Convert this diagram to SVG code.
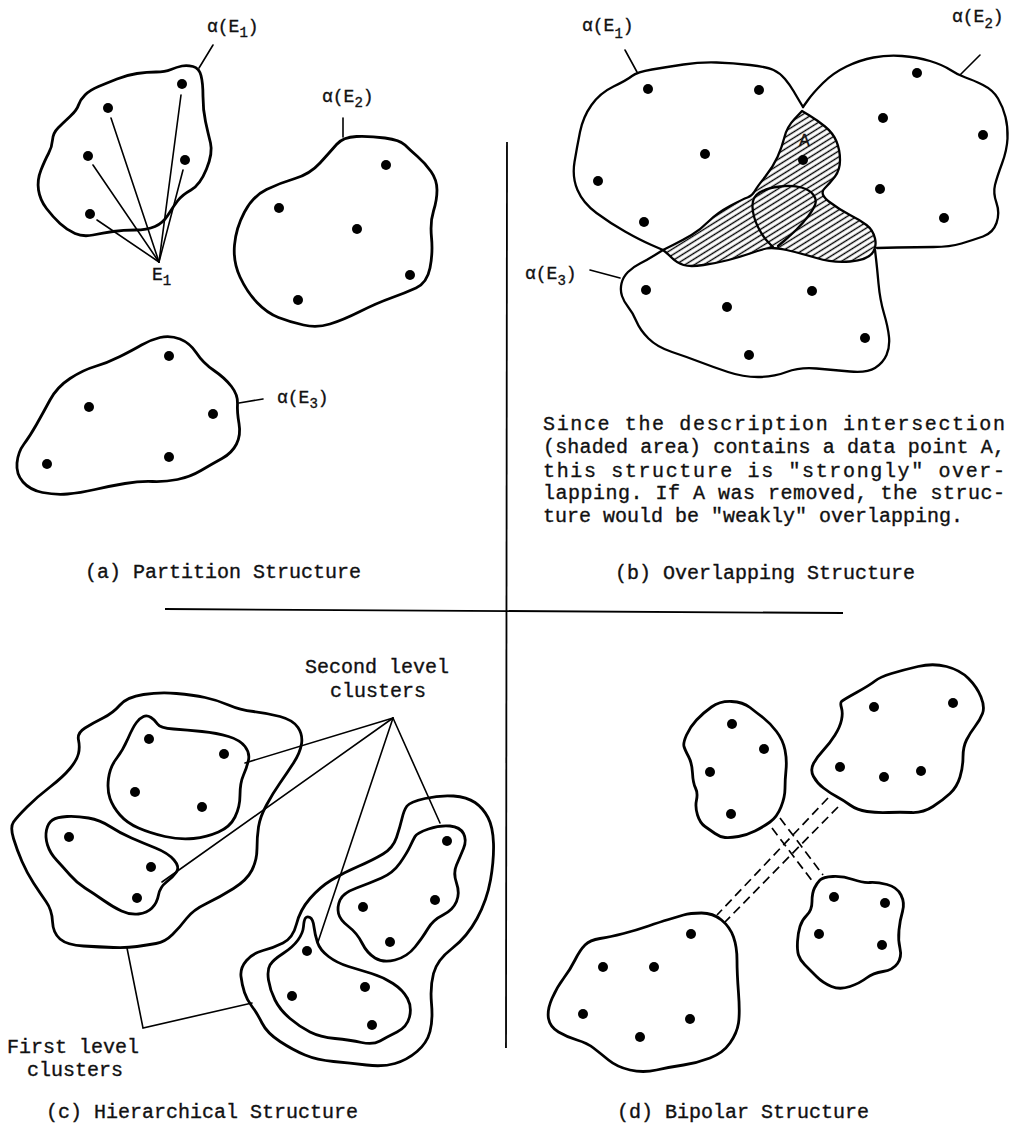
<svg xmlns="http://www.w3.org/2000/svg" width="1020" height="1126" viewBox="0 0 1020 1126">
<style>
.blob{fill:none;stroke:#000;stroke-width:2.8;stroke-linejoin:round;stroke-linecap:round}
.blobb{fill:none;stroke:#000;stroke-width:2.3;stroke-linejoin:round;stroke-linecap:round}
.ln{fill:none;stroke:#000;stroke-width:1.6;stroke-linecap:round}
.div{fill:none;stroke:#000;stroke-width:1.8}
.dash{fill:none;stroke:#000;stroke-width:1.7;stroke-dasharray:9 5}
.dot{fill:#000}
text{font-family:"Liberation Mono","DejaVu Sans Mono",monospace;fill:#111;stroke:#111;stroke-width:0.35}
.cap{font-size:20px}
.lab{font-size:18px}
.sub{font-size:14px}
</style>
<defs>
<pattern id="hatch" width="6" height="5" patternUnits="userSpaceOnUse" patternTransform="rotate(-32)">
<line x1="0" y1="2.5" x2="6" y2="2.5" stroke="#000" stroke-width="1.4"/>
</pattern>
</defs>
<rect width="1020" height="1126" fill="#fff"/>

<g id="dividers">
<line class="div" x1="507" y1="142" x2="506" y2="1048"/>
<line class="div" x1="165" y1="609" x2="843" y2="613"/>
</g>

<!-- (a) Partition structure -->
<g id="panel-a">
<g id="a-E1">
<path class="blob" d="M201,75.5 Q199,68 193,66.5 Q187,65 182,66 Q177,67 171,69.5 Q165,72 156,72 Q147,72 137,73.5 Q127,75 117,79 Q107,83 98.5,86.5 Q90,90 85,95 Q80,100 78.5,105 Q77,110 70,116.5 Q63,123 58,128 Q53,133 52.5,140 Q52,147 48.5,153.5 Q45,160 41,170 Q37,180 38.5,190 Q40,200 46.5,208.5 Q53,217 60,223.5 Q67,230 75,233.5 Q83,237 93,235 Q103,233 113,231.5 Q123,230 135,230 Q147,230 155,226.5 Q163,223 168,215 Q173,207 177.5,201 Q182,195 191,190 Q200,185 206.5,169 Q213,153 210.5,143 Q208,133 205.5,121.5 Q203,110 203,96.5 Q203,83 201,75.5 Z"/>
<circle class="dot" cx="182" cy="84" r="5"/>
<circle class="dot" cx="108" cy="108" r="5"/>
<circle class="dot" cx="88" cy="156" r="5"/>
<circle class="dot" cx="185" cy="160" r="5"/>
<circle class="dot" cx="90" cy="214" r="5"/>
<text class="lab" x="207" y="32">α(E<tspan class="sub" dy="5">1</tspan><tspan dy="-5">)</tspan></text>
<text class="lab" x="152" y="280">E<tspan class="sub" dy="5">1</tspan></text>
</g>
<g id="a-E2">
<path class="blob" d="M336.5,144.5 Q343,137 356.5,136.5 Q370,136 385,138 Q400,140 405,145 Q410,150 417.5,156.5 Q425,163 431,171.5 Q437,180 437,190 Q437,200 433.5,211 Q430,222 431.5,237.5 Q433,253 430,268 Q427,283 416,288 Q405,293 391,298 Q377,303 360,311.5 Q343,320 330,324 Q317,328 303.5,325 Q290,322 278.5,317.5 Q267,313 257,302.5 Q247,292 240,277 Q233,262 234.5,245 Q236,228 244.5,212 Q253,196 266.5,189.5 Q280,183 295,178.5 Q310,174 320,163 Q330,152 336.5,144.5 Z"/>
<circle class="dot" cx="386" cy="165" r="5"/>
<circle class="dot" cx="279" cy="208" r="5"/>
<circle class="dot" cx="357" cy="229" r="5"/>
<circle class="dot" cx="410" cy="275" r="5"/>
<circle class="dot" cx="298" cy="300" r="5"/>
<text class="lab" x="322" y="102">α(E<tspan class="sub" dy="5">2</tspan><tspan dy="-5">)</tspan></text>
</g>
<g id="a-E3">
<path class="blob" d="M160,337.5 Q170,335 180,339 Q190,343 196.5,353 Q203,363 214,370.5 Q225,378 231.5,386.5 Q238,395 237.5,403.5 Q237,412 239,423.5 Q241,435 236.5,444 Q232,453 222,458.5 Q212,464 201,470.5 Q190,477 177.5,479.5 Q165,482 152.5,481.5 Q140,481 125,483.5 Q110,486 95,489.5 Q80,493 67.5,494 Q55,495 42.5,492.5 Q30,490 23,482 Q16,474 17,463 Q18,452 24,444 Q30,436 36.5,424.5 Q43,413 50,400 Q57,387 70,378.5 Q83,370 95,366.5 Q107,363 120,356.5 Q133,350 141.5,345 Q150,340 160,337.5 Z"/>
<circle class="dot" cx="169" cy="356" r="5"/>
<circle class="dot" cx="89" cy="407" r="5"/>
<circle class="dot" cx="213" cy="414" r="5"/>
<circle class="dot" cx="169" cy="457" r="5"/>
<circle class="dot" cx="47" cy="464" r="5"/>
<text class="lab" x="277" y="403">α(E<tspan class="sub" dy="5">3</tspan><tspan dy="-5">)</tspan></text>
</g>
<text class="cap" x="85" y="578">(a) Partition Structure</text>
</g>

<!-- (b) Overlapping structure -->
<g id="panel-b">
<g id="b-shaded">
<path d="M802,111 L809.5,115.5 Q817,120 825,126.5 Q833,133 836.5,141.5 Q840,150 840,160 Q840,170 835,176.5 Q830,183 824.5,188.5 Q819,194 829.5,202 Q840,210 850,215 Q860,220 866.5,225 Q873,230 875,238.5 Q877,247 872,253.5 Q867,260 850,261.5 Q833,263 816.5,258 Q800,253 786.5,250 Q773,247 766.5,248.5 Q760,250 750,253.5 Q740,257 728.5,260 Q717,263 703.5,265 Q690,267 683.5,265 Q677,263 672,258 Q667,253 663,250 L673,245 Q683,240 691.5,235 Q700,230 708.5,221.5 Q717,213 730,206 Q743,199 747.5,197.5 Q752,196 754.5,191.5 Q757,187 765,177 Q773,167 777.5,157 Q782,147 784.5,137 Q787,127 794.5,119 L802,111 Z" fill="url(#hatch)" stroke="#000" stroke-width="2.3" stroke-linejoin="round"/>
<path class="blobb" d="M773,247 L768,242 Q763,237 758,227 Q753,217 752.5,207 Q752,197 759.5,192.5 Q767,188 780,186.5 Q793,185 801.5,187.5 Q810,190 813.5,195 Q817,200 815,205 Q813,210 808,216.5 Q803,223 796.5,229.5 Q790,236 784,241 L778,246"/>
</g>
<g id="b-E1">
<path class="blobb" d="M803,107 L800,102 Q797,97 793.5,91 Q790,85 785,79 Q780,73 773.5,70 Q767,67 750,65 Q733,63 716.5,62.5 Q700,62 683.5,64.5 Q667,67 652,69.5 Q637,72 632,76 Q627,80 613.5,86.5 Q600,93 591.5,105 Q583,117 580,132 Q577,147 574.5,162 Q572,177 577.5,190 Q583,203 596.5,213 Q610,223 625,231.5 Q640,240 651.5,245 L663,250"/>
<circle class="dot" cx="648" cy="89" r="5"/>
<circle class="dot" cx="759" cy="90" r="5"/>
<circle class="dot" cx="705" cy="154" r="5"/>
<circle class="dot" cx="598" cy="181" r="5"/>
<circle class="dot" cx="644" cy="222" r="5"/>
<text class="lab" x="582" y="31">α(E<tspan class="sub" dy="7">1</tspan><tspan dy="-7">)</tspan></text>
</g>
<g id="b-E2">
<path class="blobb" d="M803,107 L808,100 Q813,93 823,83 Q833,73 846.5,66.5 Q860,60 873.5,57.5 Q887,55 902,56 Q917,57 930,61 Q943,65 950.5,70 Q958,75 965.5,77.5 Q973,80 983,85 Q993,90 998,98.5 Q1003,107 1005.5,117 Q1008,127 1007.5,138.5 Q1007,150 1002,163.5 Q997,177 995,185 Q993,193 996.5,203 Q1000,213 996.5,223 Q993,233 983,236.5 Q973,240 961.5,243.5 Q950,247 933.5,247 Q917,247 897,247.5 L877,248"/>
<circle class="dot" cx="917" cy="73" r="5"/>
<circle class="dot" cx="883" cy="118" r="5"/>
<circle class="dot" cx="983" cy="135" r="5"/>
<circle class="dot" cx="880" cy="189" r="5"/>
<circle class="dot" cx="944" cy="218" r="5"/>
<text class="lab" x="952" y="22">α(E<tspan class="sub" dy="6">2</tspan><tspan dy="-6">)</tspan></text>
</g>
<g id="b-E3">
<path class="blobb" d="M663,250 L655,255 Q647,260 640,263.5 Q633,267 628,272 Q623,277 621.5,283.5 Q620,290 622,296 Q624,302 628.5,307.5 Q633,313 636.5,321.5 Q640,330 648.5,338.5 Q657,347 672,352 Q687,357 700,362 Q713,367 728,372 Q743,377 758,377 Q773,377 786.5,372 Q800,367 816.5,368.5 Q833,370 850,371.5 Q867,373 875,368 Q883,363 886.5,355 Q890,347 889,337 Q888,327 884,313.5 Q880,300 878.5,283.5 Q877,267 876,258.5 L875,250"/>
<circle class="dot" cx="646" cy="290" r="5"/>
<circle class="dot" cx="727" cy="307" r="5"/>
<circle class="dot" cx="812" cy="291" r="5"/>
<circle class="dot" cx="865" cy="338" r="5"/>
<circle class="dot" cx="749" cy="355" r="5"/>
<text class="lab" x="525" y="279">α(E<tspan class="sub" dy="6">3</tspan><tspan dy="-6">)</tspan></text>
</g>
<g id="b-pointA">
<circle class="dot" cx="803" cy="160" r="5"/>
<text class="lab" x="799" y="146">A</text>
</g>
<g id="b-text" class="cap">
<text x="543" y="430" textLength="462" lengthAdjust="spacing">Since the description intersection</text>
<text x="543" y="453" textLength="462" lengthAdjust="spacing">(shaded area) contains a data point A,</text>
<text x="543" y="477" textLength="462" lengthAdjust="spacing">this structure is "strongly" over-</text>
<text x="543" y="499" textLength="462" lengthAdjust="spacing">lapping.  If A was removed, the struc-</text>
<text x="543" y="522">ture would be "weakly" overlapping.</text>
</g>
<text class="cap" x="615" y="579">(b) Overlapping Structure</text>
</g>

<!-- (c) Hierarchical structure -->
<g id="panel-c">
<g id="c-outer1">
<path class="blob" d="M120,705 Q127,697 143.5,694.5 Q160,692 176.5,693.5 Q193,695 205,697.5 Q217,700 228.5,705 Q240,710 253.5,711.5 Q267,713 280,716.5 Q293,720 298,727.5 Q303,735 301.5,744 Q300,753 293.5,763 Q287,773 280,783 Q273,793 266.5,805 Q260,817 258.5,827 Q257,837 257,848.5 Q257,860 252,870 Q247,880 233.5,888.5 Q220,897 206.5,903.5 Q193,910 186.5,918.5 Q180,927 172.5,934.5 Q165,942 156,943.5 Q147,945 137,946.5 Q127,948 113.5,947.5 Q100,947 83.5,946 Q67,945 60,939 Q53,933 52.5,921.5 Q52,910 46,901.5 Q40,893 33.5,883 Q27,873 22,861.5 Q17,850 13.5,838.5 Q10,827 13.5,822 Q17,817 27,807 Q37,797 50,787 Q63,777 70,768.5 Q77,760 78.5,753.5 Q80,747 78.5,740 Q77,733 85,728 Q93,723 103,718 Q113,713 120,705 Z"/>
</g>
<g id="c-c1">
<path class="blob" d="M143.5,716.5 Q147,715 151,717.5 Q155,720 157.5,724 Q160,728 173.5,729 Q187,730 202,731.5 Q217,733 228.5,736.5 Q240,740 245,746.5 Q250,753 248.5,760 Q247,767 243.5,775 Q240,783 240,795 Q240,807 235,817 Q230,827 218.5,832 Q207,837 193.5,838.5 Q180,840 165,836.5 Q150,833 138.5,828 Q127,823 120,815 Q113,807 110,798.5 Q107,790 108.5,778.5 Q110,767 116.5,758.5 Q123,750 128,738.5 Q133,727 136.5,722.5 Q140,718 143.5,716.5 Z"/>
<circle class="dot" cx="149" cy="739" r="5"/>
<circle class="dot" cx="224" cy="754" r="5"/>
<circle class="dot" cx="135" cy="792" r="5"/>
<circle class="dot" cx="202" cy="807" r="5"/>
</g>
<g id="c-c2">
<path class="blob" d="M52.5,820 Q57,817 67,816.5 Q77,816 88.5,818 Q100,820 110,826.5 Q120,833 131.5,838 Q143,843 155.5,848 Q168,853 174,860 Q180,867 176.5,872 Q173,877 166.5,882 Q160,887 158.5,895 Q157,903 152,908 Q147,913 138.5,914 Q130,915 121.5,911 Q113,907 103,900 Q93,893 85,888 Q77,883 70,875 Q63,867 56.5,860 Q50,853 47.5,845 Q45,837 46.5,830 Q48,823 52.5,820 Z"/>
<circle class="dot" cx="69" cy="837" r="5"/>
<circle class="dot" cx="151" cy="867" r="5"/>
<circle class="dot" cx="137" cy="898" r="5"/>
</g>
<g id="c-outer2">
<path class="blob" d="M407,806 Q410,802 425,798.5 Q440,795 453.5,796 Q467,797 475,802.5 Q483,808 488,817.5 Q493,827 493.5,843.5 Q494,860 490.5,880 Q487,900 477,918.5 Q467,937 452,948.5 Q437,960 433.5,973.5 Q430,987 431.5,1003.5 Q433,1020 430,1031.5 Q427,1043 417,1051.5 Q407,1060 395,1063.5 Q383,1067 366.5,1065 Q350,1063 333.5,1061.5 Q317,1060 305,1055 Q293,1050 280,1041.5 Q267,1033 262,1023 Q257,1013 252,1006.5 Q247,1000 244.5,992.5 Q242,985 241,976.5 Q240,968 246.5,960.5 Q253,953 263,950.5 Q273,948 283,943 Q293,938 296.5,924 Q300,910 310,898.5 Q320,887 331.5,880 Q343,873 358,866.5 Q373,860 383,854 Q393,848 396.5,837.5 Q400,827 402,818.5 Q404,810 407,806 Z"/>
</g>
<g id="c-c3">
<path class="blob" d="M415,836.5 Q417,833 428.5,829 Q440,825 450,826 Q460,827 463.5,833.5 Q467,840 463.5,848.5 Q460,857 456.5,865 Q453,873 456.5,883 Q460,893 456.5,901.5 Q453,910 443,915 Q433,920 428,928.5 Q423,937 415,947 Q407,957 395,960 Q383,963 375,958 Q367,953 362,943 Q357,933 348.5,926.5 Q340,920 338.5,913.5 Q337,907 340,900 Q343,893 356.5,888 Q370,883 381.5,878 Q393,873 400,863 Q407,853 410,846.5 Q413,840 415,836.5 Z"/>
<circle class="dot" cx="447" cy="841" r="5"/>
<circle class="dot" cx="435" cy="900" r="5"/>
<circle class="dot" cx="363" cy="907" r="5"/>
<circle class="dot" cx="390" cy="942" r="5"/>
</g>
<g id="c-c4">
<path class="blob" d="M305.5,918 Q307,916 310,917.5 Q313,919 314,927 Q315,935 317.5,942.5 Q320,950 328.5,956.5 Q337,963 348.5,966.5 Q360,970 371.5,973.5 Q383,977 393,983.5 Q403,990 407.5,998.5 Q412,1007 409.5,1017 Q407,1027 397,1032 Q387,1037 380,1041 Q373,1045 361.5,1042.5 Q350,1040 335,1038.5 Q320,1037 310,1032 Q300,1027 290,1018.5 Q280,1010 275,1000 Q270,990 268.5,980 Q267,970 270,965 Q273,960 283,953.5 Q293,947 298,940 Q303,933 303.5,926.5 Q304,920 305.5,918 Z"/>
<circle class="dot" cx="307" cy="951" r="5"/>
<circle class="dot" cx="292" cy="996" r="5"/>
<circle class="dot" cx="365" cy="987" r="5"/>
<circle class="dot" cx="372" cy="1025" r="5"/>
</g>
<text class="cap" x="305" y="673">Second level</text>
<text class="cap" x="330" y="697">clusters</text>
<text class="cap" x="7" y="1053">First level</text>
<text class="cap" x="27" y="1076">clusters</text>
<text class="cap" x="46" y="1118">(c) Hierarchical Structure</text>
</g>

<!-- (d) Bipolar structure -->
<g id="panel-d">
<g id="d-c1">
<path class="blob" d="M711.5,707 Q720,701 731.5,701.5 Q743,702 750,707.5 Q757,713 763.5,718 Q770,723 776.5,731.5 Q783,740 785,750 Q787,760 786,770 Q785,780 785,788.5 Q785,797 781,807 Q777,817 770,822 Q763,827 755,831 Q747,835 738.5,836.5 Q730,838 725,837.5 Q720,837 715,833.5 Q710,830 705,826.5 Q700,823 697.5,815 Q695,807 696.5,800 Q698,793 695.5,788 Q693,783 692.5,773 Q692,763 688.5,756.5 Q685,750 684,746.5 Q683,743 686.5,735 Q690,727 696.5,720 Q703,713 711.5,707 Z"/>
<circle class="dot" cx="732" cy="724" r="5"/>
<circle class="dot" cx="764" cy="749" r="5"/>
<circle class="dot" cx="710" cy="772" r="5"/>
<circle class="dot" cx="731" cy="814" r="5"/>
</g>
<g id="d-c2">
<path class="blob" d="M841.5,701.5 Q843,700 856.5,692.5 Q870,685 875,681 Q880,677 891.5,673.5 Q903,670 918,666.5 Q933,663 946.5,666.5 Q960,670 968.5,678.5 Q977,687 981,697 Q985,707 982.5,713.5 Q980,720 975,726.5 Q970,733 966.5,740 Q963,747 963,757 Q963,767 960,777 Q957,787 950,793.5 Q943,800 933,806.5 Q923,813 911.5,812.5 Q900,812 888.5,812.5 Q877,813 867,811.5 Q857,810 850,805 Q843,800 836.5,796.5 Q830,793 823.5,788 Q817,783 813.5,776.5 Q810,770 813.5,763.5 Q817,757 823.5,750 Q830,743 835,735 Q840,727 841.5,720 Q843,713 841.5,708 Q840,703 841.5,701.5 Z"/>
<circle class="dot" cx="874" cy="707" r="5"/>
<circle class="dot" cx="953" cy="703" r="5"/>
<circle class="dot" cx="840" cy="767" r="5"/>
<circle class="dot" cx="884" cy="777" r="5"/>
<circle class="dot" cx="921" cy="771" r="5"/>
</g>
<g id="d-c3">
<path class="blob" d="M820,880 Q823,877 833,876.5 Q843,876 853,879.5 Q863,883 870,882.5 Q877,882 887,884.5 Q897,887 901,895 Q905,903 902.5,911.5 Q900,920 899,930 Q898,940 900,948.5 Q902,957 897.5,963.5 Q893,970 883,971.5 Q873,973 866.5,978 Q860,983 850,986.5 Q840,990 831.5,986.5 Q823,983 816.5,976.5 Q810,970 805,965 Q800,960 798.5,955 Q797,950 797.5,941.5 Q798,933 800,926.5 Q802,920 807,915 Q812,910 812,901.5 Q812,893 814.5,888 Q817,883 820,880 Z"/>
<circle class="dot" cx="834" cy="897" r="5"/>
<circle class="dot" cx="885" cy="903" r="5"/>
<circle class="dot" cx="819" cy="934" r="5"/>
<circle class="dot" cx="882" cy="945" r="5"/>
</g>
<g id="d-c4">
<path class="blob" d="M683.5,915 Q690,913 701.5,913 Q713,913 721.5,920 Q730,927 733.5,937 Q737,947 737,960 Q737,973 738.5,993 Q740,1013 738.5,1023 Q737,1033 730,1043 Q723,1053 710,1058 Q697,1063 683.5,1065 Q670,1067 656.5,1070 Q643,1073 630,1070 Q617,1067 608.5,1060 Q600,1053 593.5,1048 Q587,1043 577,1040 Q567,1037 558.5,1032 Q550,1027 548.5,1018.5 Q547,1010 552,998.5 Q557,987 563.5,978.5 Q570,970 575,960 Q580,950 585,945 Q590,940 600,938.5 Q610,937 623.5,933.5 Q637,930 648.5,926 Q660,922 668.5,919.5 Q677,917 683.5,915 Z"/>
<circle class="dot" cx="691" cy="934" r="5"/>
<circle class="dot" cx="603" cy="967" r="5"/>
<circle class="dot" cx="654" cy="967" r="5"/>
<circle class="dot" cx="583" cy="1014" r="5"/>
<circle class="dot" cx="690" cy="1019" r="5"/>
<circle class="dot" cx="640" cy="1037" r="5"/>
</g>
<text class="cap" x="617" y="1118">(d) Bipolar Structure</text>
</g>

<g id="connectors">
<line class="ln" x1="199" y1="68" x2="213" y2="45"/>
<line class="ln" x1="343" y1="137" x2="343" y2="118"/>
<line class="ln" x1="239" y1="403" x2="263" y2="399"/>
<line class="ln" x1="181" y1="95" x2="159" y2="262"/>
<line class="ln" x1="111" y1="118" x2="159" y2="262"/>
<line class="ln" x1="93" y1="165" x2="159" y2="262"/>
<line class="ln" x1="183" y1="170" x2="159" y2="262"/>
<line class="ln" x1="97" y1="220" x2="159" y2="262"/>
<line class="ln" x1="637" y1="72" x2="625" y2="50"/>
<line class="ln" x1="960" y1="75" x2="980" y2="55"/>
<line class="ln" x1="620" y1="278" x2="590" y2="270"/>
<line class="ln" x1="393" y1="718" x2="245" y2="763"/>
<line class="ln" x1="393" y1="718" x2="162" y2="882"/>
<line class="ln" x1="393" y1="718" x2="318" y2="942"/>
<line class="ln" x1="393" y1="718" x2="440" y2="823"/>
<polyline class="ln" points="127,948 143,1028 252,1003"/>
<line class="dash" x1="828" y1="798" x2="717" y2="915"/>
<line class="dash" x1="838" y1="807" x2="725" y2="922"/>
<line class="dash" x1="772" y1="828" x2="813" y2="882"/>
<line class="dash" x1="780" y1="818" x2="823" y2="875"/>
</g>
</svg>
